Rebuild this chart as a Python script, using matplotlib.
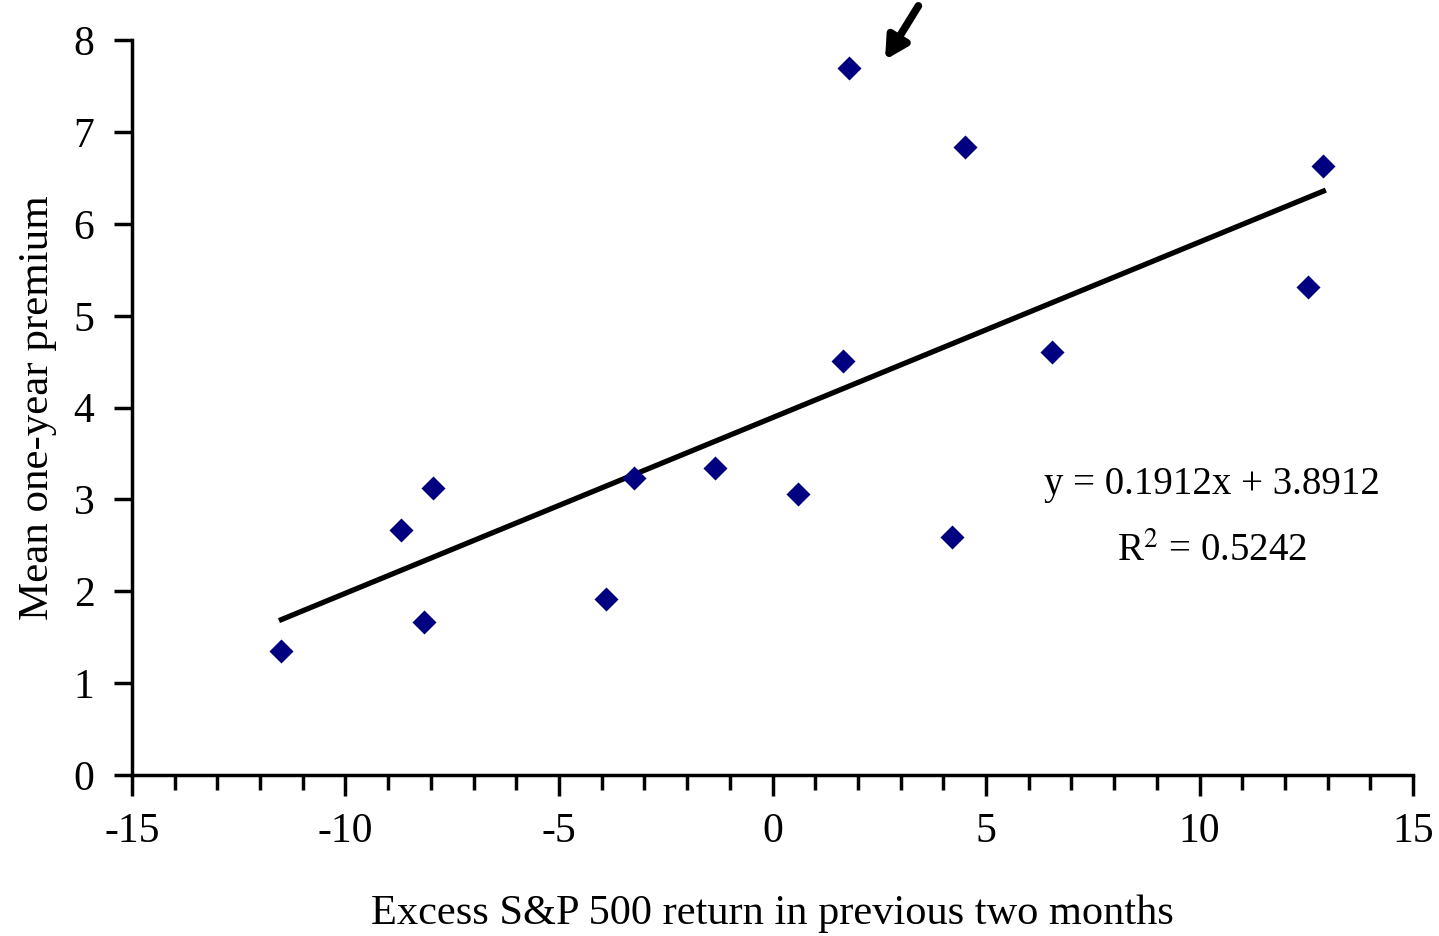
import numpy as np
import matplotlib.pyplot as plt
from matplotlib.ticker import MultipleLocator

plt.rcParams["font.family"] = ["Liberation Serif", "DejaVu Serif"]
plt.rcParams["mathtext.fontset"] = "stix"
plt.rcParams["axes.unicode_minus"] = False

# values
excess_return = [-11.5, -8.7, -8.15, -7.95, -3.9, -3.25, -1.35, 0.6, 1.65, 1.8,
                 4.2, 4.5, 6.55, 12.55, 12.9]
mean_premium = [1.35, 2.67, 1.67, 3.12, 1.92, 3.23, 3.34, 3.06, 4.51, 7.70,
                2.59, 6.84, 4.61, 5.31, 6.63]
slope = 0.1912
intercept = 3.8912
r_squared = 0.5242

fig = plt.figure(figsize=(14.39, 9.36), dpi=100)
ax = fig.add_axes([0.0917, 0.172, 0.8903, 0.785])

ax.scatter(excess_return, mean_premium, marker="D", s=150, color="#000080",
           zorder=3, linewidths=0)

x_fit = np.array([min(excess_return), max(excess_return)])
ax.plot(x_fit, slope * x_fit + intercept, color="black", lw=3.8, zorder=2)

ax.text(10.3, 3.16, f"y = {slope}x + {intercept}", fontsize=28,
        ha="center", va="center")
ax.text(10.3, 2.44, f"R$^2$ = {r_squared}", fontsize=28,
        ha="center", va="center")

# arrow pointing at the outlier
ax.annotate("", xy=(2.6, 7.76), xytext=(3.45, 8.4),
            arrowprops=dict(arrowstyle="-|>,head_length=1.3,head_width=0.7",
                            color="black", lw=5.5),
            annotation_clip=False)

ax.set_xlim(-15, 15)
ax.set_ylim(0, 8)
ax.xaxis.set_major_locator(MultipleLocator(5))
ax.xaxis.set_minor_locator(MultipleLocator(1))
ax.yaxis.set_major_locator(MultipleLocator(1))
ax.spines["top"].set_visible(False)
ax.spines["right"].set_visible(False)
ax.spines["left"].set_linewidth(2.5)
ax.spines["bottom"].set_linewidth(2.5)
ax.tick_params(axis="both", which="major", direction="out", length=15,
               width=2.5, labelsize=30)
ax.tick_params(axis="x", which="minor", direction="out", length=11, width=2.5)
ax.tick_params(axis="x", which="major", pad=12)
ax.tick_params(axis="y", which="major", length=13, pad=14)

ax.set_xlabel("Excess S&P 500 return in previous two months", fontsize=30.5,
              labelpad=31)
ax.set_ylabel("Mean one-year premium", fontsize=31, labelpad=12)

fig.savefig("out.png", dpi=100)
